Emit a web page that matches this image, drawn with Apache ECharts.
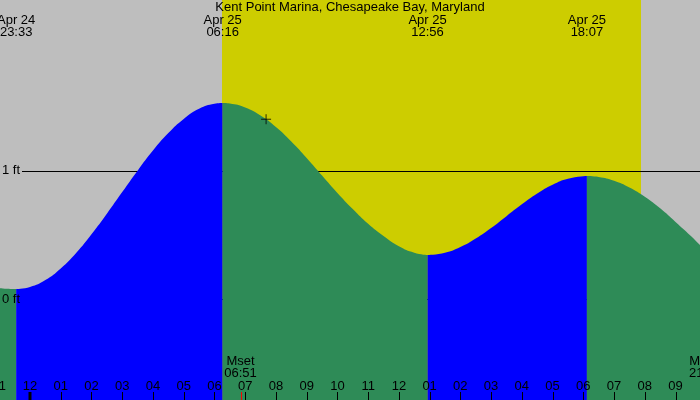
<!DOCTYPE html>
<html>
<head>
<meta charset="utf-8">
<script src="https://cdn.jsdelivr.net/npm/echarts@6/dist/echarts.min.js"></script>
<style>
html,body{margin:0;padding:0;background:#BEBEBE;}
#chart{width:700px;height:400px;}
</style>
</head>
<body>
<div id="chart"></div>
<script>
// ---- data (hours relative to midnight Apr 25, heights in feet) ----
const titleText = 'Kent Point Marina, Chesapeake Bay, Maryland';
const hours = [-1,0,1,2,3,4,5,6,7,8,9,10,11,12,13,14,15,16,17,18,19,20,21];
const hourLabels = ['11','12','01','02','03','04','05','06','07','08','09','10','11','12','01','02','03','04','05','06','07','08','09'];
const midnightHour = 0;

const fallA = [[-1,0.085],[-0.75,0.080],[-0.45,0.078]];
const riseB = [[-0.45,0.078],[0,0.094],[0.5,0.148],[1,0.238],[1.5,0.358],[2,0.504],[2.5,0.664],[3,0.832],[3.5,0.999],[4,1.155],[4.5,1.291],[5,1.401],[5.5,1.480],[6,1.519],[6.267,1.525]];
const fallC = [[6.267,1.525],[6.5,1.521],[7,1.490],[7.5,1.428],[8,1.339],[8.5,1.226],[9,1.098],[9.5,0.961],[10,0.825],[10.5,0.700],[11,0.585],[11.5,0.490],[12,0.410],[12.5,0.360],[12.933,0.342]];
const riseD = [[12.933,0.342],[13.5,0.360],[14,0.404],[14.5,0.471],[15,0.553],[15.5,0.645],[16,0.737],[16.5,0.821],[17,0.889],[17.5,0.936],[18.117,0.957]];
const fallE = [[18.117,0.957],[18.5,0.950],[19,0.920],[19.5,0.868],[20,0.796],[20.5,0.706],[21,0.600],[21.5,0.490],[22,0.370]];

const extremeTimes = [-0.45, 6.267, 12.933, 18.117];
const extremeDates = ['Apr 24','Apr 25','Apr 25','Apr 25'];
const extremeClock = ['23:33','06:16','12:56','18:07'];

const moonTimes = [6.85, 21.967];
const moonNames = ['Mset','Mrise'];
const moonClock = ['06:51','21:58'];

const sunrise = 6.25;
const sunset = 19.88;

const nowPoint = [[7.68, 1.399]];

const levelValues = [0, 1];
const levelLabels = ['0 ft', '1 ft'];

const xMin = -0.976, xMax = 21.796;
const yMin = -0.786, yMax = 2.327;

// ---- style ----
const FONT = '13px "Liberation Sans", Arial, sans-serif';
const GRAY = '#BEBEBE', YELLOW = '#CDCD00', GREEN = '#2E8B57', BLUE = '#0000FF';

function area(data, color){
  return {
    type:'line', data:data, smooth:true, symbol:'none', z:3,
    lineStyle:{width:0, color:color},
    areaStyle:{color:color, opacity:1, origin:'start'}
  };
}
function snap(v){ return Math.round(v) + 0.5; }

const option = {
  animation:false,
  backgroundColor:GRAY,
  title:{
    text:titleText, left:'center', top:1, padding:0,
    textStyle:{fontFamily:'"Liberation Sans", Arial, sans-serif', fontSize:13, fontWeight:'normal', color:'#000', lineHeight:13}
  },
  grid:{left:0,right:0,top:0,bottom:0},
  xAxis:{type:'value', min:xMin, max:xMax, show:false},
  yAxis:{type:'value', min:yMin, max:yMax, show:false},
  series:[
    // daylight band
    {
      type:'custom', z:1, silent:true, data:[[sunrise, sunset]],
      renderItem:function(params, api){
        const a = api.coord([api.value(0), yMax]);
        const b = api.coord([api.value(1), yMin]);
        return {type:'rect', shape:{x:Math.round(a[0]), y:a[1], width:Math.round(b[0])-Math.round(a[0]), height:b[1]-a[1]}, style:{fill:YELLOW}};
      }
    },
    // level lines
    {
      type:'custom', z:2, silent:true, data:levelValues.map(function(v){return [v];}),
      renderItem:function(params, api){
        const p = api.coord([xMin, api.value(0)]);
        const q = api.coord([xMax, api.value(0)]);
        const y = snap(p[1]);
        return {type:'line', shape:{x1:p[0]+22, y1:y, x2:q[0], y2:y}, style:{stroke:'#000', lineWidth:1}};
      }
    },
    area(fallA, GREEN),
    area(riseB, BLUE),
    area(fallC, GREEN),
    area(riseD, BLUE),
    area(fallE, GREEN),
    // level labels
    {
      type:'custom', z:6, silent:true, data:levelValues.map(function(v,i){return [v,i];}),
      renderItem:function(params, api){
        const p = api.coord([xMin, api.value(0)]);
        return {type:'text', x:p[0]+2, y:p[1], style:{text:levelLabels[api.value(1)], font:FONT, fill:'#000', align:'left', verticalAlign:'middle'}};
      }
    },
    // hour ticks and labels
    {
      type:'custom', z:6, silent:true, data:hours.map(function(h,i){return [h,i];}),
      renderItem:function(params, api){
        const h = api.value(0);
        const p = api.coord([h, yMin]);
        const thick = (h === midnightHour);
        const x = thick ? Math.round(p[0]) : snap(p[0]);
        return {type:'group', children:[
          {type:'line', shape:{x1:x, y1:p[1]-8, x2:x, y2:p[1]}, style:{stroke:'#000', lineWidth:thick?3:1}},
          {type:'text', x:p[0], y:p[1]-14, style:{text:hourLabels[api.value(1)], font:FONT, fill:'#000', align:'center', verticalAlign:'middle'}}
        ]};
      }
    },
    // moon events
    {
      type:'custom', z:6, silent:true, data:moonTimes.map(function(t,i){return [t,i];}),
      renderItem:function(params, api){
        const i = api.value(1);
        const p = api.coord([api.value(0), yMin]);
        const x = snap(p[0]);
        return {type:'group', children:[
          {type:'line', shape:{x1:x, y1:p[1]-8, x2:x, y2:p[1]}, style:{stroke:'#FF0000', lineWidth:1}},
          {type:'text', x:p[0], y:p[1]-38.5, style:{text:moonNames[i], font:FONT, fill:'#000', align:'center', verticalAlign:'middle'}},
          {type:'text', x:p[0], y:p[1]-26.5, style:{text:moonClock[i], font:FONT, fill:'#000', align:'center', verticalAlign:'middle'}}
        ]};
      }
    },
    // tide extreme labels
    {
      type:'custom', z:6, silent:true, data:extremeTimes.map(function(t,i){return [t,i];}),
      renderItem:function(params, api){
        const i = api.value(1);
        const p = api.coord([api.value(0), yMax]);
        return {type:'group', children:[
          {type:'text', x:p[0], y:p[1]+20, style:{text:extremeDates[i], font:FONT, fill:'#000', align:'center', verticalAlign:'middle'}},
          {type:'text', x:p[0], y:p[1]+32, style:{text:extremeClock[i], font:FONT, fill:'#000', align:'center', verticalAlign:'middle'}}
        ]};
      }
    },
    // current time marker
    {
      type:'scatter', z:7, silent:true, data:nowPoint,
      symbol:'path://M5,0 L5,10 M0,5 L10,5', symbolSize:10,
      itemStyle:{color:'none', borderColor:'#000', borderWidth:1}
    }
  ]
};

const chart = echarts.init(document.getElementById('chart'), null, {renderer:'canvas'});
chart.setOption(option);
</script>
</body>
</html>
